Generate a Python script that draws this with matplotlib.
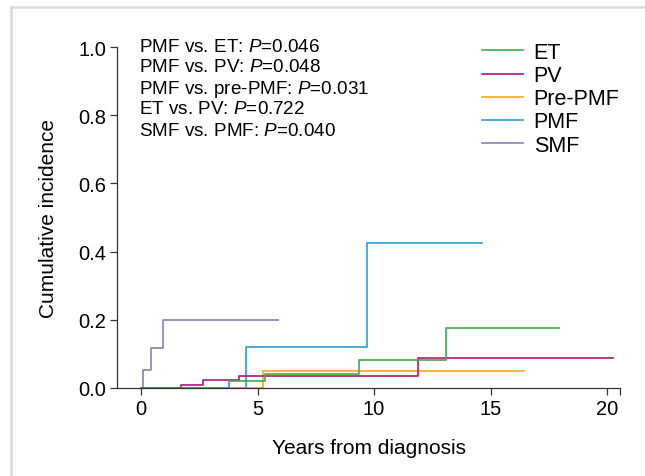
import matplotlib
matplotlib.use('Agg')
import matplotlib.pyplot as plt
from matplotlib.lines import Line2D

plt.rcParams['font.family'] = ['Liberation Sans', 'DejaVu Sans']
plt.rcParams['mathtext.fontset'] = 'custom'
plt.rcParams['mathtext.rm'] = 'Liberation Sans'
plt.rcParams['mathtext.it'] = 'Liberation Sans:italic'

# step curves: event times (years) and cumulative incidence after each time
et_t = [0, 3.79, 5.32, 9.37, 13.09, 17.94]
et_v = [0, 0.021, 0.041, 0.083, 0.176, 0.176]
pv_t = [0, 1.72, 2.65, 4.2, 11.87, 20.26]
pv_v = [0, 0.009, 0.024, 0.035, 0.087, 0.087]
pre_t = [0, 5.25, 16.41]
pre_v = [0, 0.051, 0.051]
pmf_t = [0, 4.49, 9.69, 14.63]
pmf_v = [0, 0.121, 0.425, 0.425]
smf_t = [0, 0.1, 0.43, 0.96, 5.88]
smf_v = [0, 0.053, 0.117, 0.2, 0.2]

labels = ['ET', 'PV', 'Pre-PMF', 'PMF', 'SMF']
colors = ['#3cab4b', '#b4127d', '#f5a623', '#27a0d8', '#8f7bb8']

pvals = [r'PMF vs. ET: $\it{P}$=0.046',
         r'PMF vs. PV: $\it{P}$=0.048',
         r'PMF vs. pre-PMF: $\it{P}$=0.031',
         r'ET vs. PV: $\it{P}$=0.722',
         r'SMF vs. PMF: $\it{P}$=0.040']

W, H = 645, 477
fig = plt.figure(figsize=(W / 100, H / 100), dpi=100)
ax = fig.add_axes([117 / W, 1 - 389 / H, 503 / W, 341 / H])

series = [(et_t, et_v), (pv_t, pv_v), (pre_t, pre_v), (pmf_t, pmf_v), (smf_t, smf_v)]
# draw in reverse so ET ends up on top like the original
for (t, v), lab, c in reversed(list(zip(series, labels, colors))):
    ax.step(t, v, where='post', color=c, lw=1.2, label=lab)

ax.set_xlim(-1.03, 20.55)
ax.set_ylim(0, 1.0)
ax.set_xticks([0, 5, 10, 15, 20])
ax.set_xticks([20.55], minor=True)
ax.set_yticks([0, 0.2, 0.4, 0.6, 0.8, 1.0])
ax.set_yticklabels(['0.0', '0.2', '0.4', '0.6', '0.8', '1.0'])
ax.tick_params(which='both', direction='out', length=5, width=0.9, color='#333333',
               labelsize=14.5, pad=3)
for s in ['top', 'right']:
    ax.spines[s].set_visible(False)
for s in ['left', 'bottom']:
    ax.spines[s].set_color('#333333')
    ax.spines[s].set_linewidth(0.9)

ax.set_xlabel('Years from diagnosis', fontsize=15, labelpad=14)
ax.set_ylabel('Cumulative incidence', fontsize=15, labelpad=14)

for i, s in enumerate(pvals):
    fig.text(139 / W, 1 - (47 + 21 * i) / H, s, fontsize=13.6, va='center', ha='left')

h, l = ax.get_legend_handles_labels()
h, l = h[::-1], l[::-1]
ax.legend(h, l, loc='upper left', bbox_to_anchor=(482 / W, 1 - 43 / H),
          bbox_transform=fig.transFigure, frameon=False, fontsize=15.5,
          handlelength=1.9, handletextpad=0.5, labelspacing=0.1, borderpad=0,
          borderaxespad=0)

# light gray frame around the figure
fig.add_artist(Line2D([11 / W, 1], [1 - 8 / H, 1 - 8 / H], color='#d9d9d9', lw=1.8))
fig.add_artist(Line2D([11 / W, 11 / W], [0, 1 - 8 / H], color='#d9d9d9', lw=1.8))

fig.savefig('out.png', dpi=100)
